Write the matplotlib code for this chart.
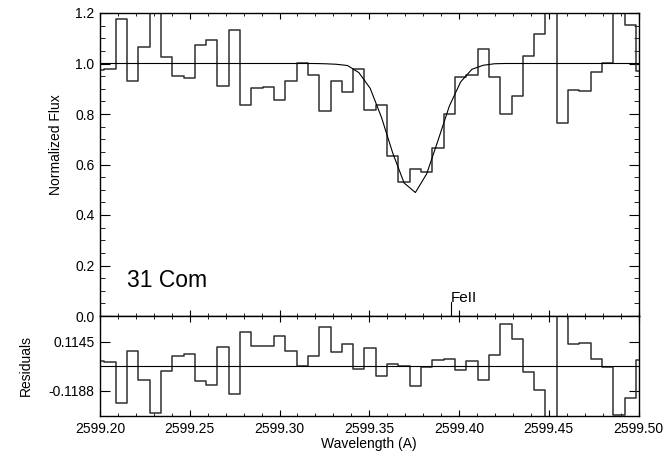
import numpy as np
import matplotlib
matplotlib.use("Agg")
import matplotlib.pyplot as plt
from matplotlib.ticker import MultipleLocator, FixedLocator, NullLocator

plt.rcParams['font.family'] = ['Liberation Sans', 'DejaVu Sans']

# Wavelength grid of the spectrum (pixel centres, Angstrom)
wave_start = 2599.1993
wave_step = 0.0063
n_pix = 49
wavelength = wave_start + wave_step * np.arange(n_pix)

# Observed normalized flux per pixel
flux = [0.975, 0.980, 1.175, 0.929, 1.067, 1.225, 1.024, 0.951, 0.941, 1.072,
        1.092, 0.909, 1.132, 0.837, 0.904, 0.907, 0.857, 0.929, 1.001, 0.954,
        0.812, 0.929, 0.889, 0.980, 0.816, 0.836, 0.634, 0.529, 0.583, 0.569,
        0.667, 0.799, 0.946, 0.954, 1.059, 0.946, 0.800, 0.872, 1.028, 1.116,
        1.300, 0.763, 0.895, 0.891, 0.968, 1.003, 1.232, 1.154, 0.970]

# Fitted absorption-line model at the same pixels
model = [1.000, 1.000, 1.000, 1.000, 1.000, 1.000, 1.000, 1.000, 1.000, 1.000,
         1.000, 1.000, 1.000, 1.000, 1.000, 1.000, 1.000, 1.000, 1.000, 1.000,
         0.999, 0.997, 0.992, 0.964, 0.902, 0.787, 0.645, 0.527, 0.489, 0.563,
         0.695, 0.831, 0.927, 0.977, 0.993, 0.999, 1.000, 1.000, 1.000, 1.000,
         1.000, 1.000, 1.000, 1.000, 1.000, 1.000, 1.000, 1.000, 1.000]

flux = np.array(flux)
model = np.array(model)
residuals = model - flux

# Line identification
line_label = "FeII"
line_wave = 2599.3953
line_tick_height = 0.056

star_name = "31 Com"
xticks = [2599.20, 2599.25, 2599.30, 2599.35, 2599.40, 2599.45, 2599.50]
resid_ticks = [0.1145, -0.1188]

fig = plt.figure(figsize=(6.67, 4.57), dpi=100)
W, H = 667, 457
x0, x1 = 100, 638.5
ax = fig.add_axes([x0 / W, 1 - 316 / H, (x1 - x0) / W, (316 - 13) / H])
axr = fig.add_axes([x0 / W, 1 - 416 / H, (x1 - x0) / W, 100 / H], sharex=ax)

data_color = '#303030'

# Spectrum panel
ax.plot(wavelength, flux, drawstyle='steps-mid', color=data_color, lw=1.1)
ax.plot(wavelength, model, color='black', lw=0.8)
ax.plot([line_wave, line_wave], [0, line_tick_height], color='black', lw=0.8)
ax.text(line_wave, line_tick_height, line_label, ha='left', va='baseline',
        fontsize=11)
ax.text(2599.2149, 0.116, star_name, ha='left', va='baseline', fontsize=16.5)

ax.set_xlim(2599.20, 2599.50)
ax.set_ylim(0.0, 1.2)
ax.yaxis.set_major_locator(MultipleLocator(0.2))
ax.yaxis.set_minor_locator(MultipleLocator(0.05))
ax.xaxis.set_major_locator(FixedLocator(xticks))
ax.xaxis.set_minor_locator(MultipleLocator(0.01))
ax.set_yticks([0.0, 0.2, 0.4, 0.6, 0.8, 1.0, 1.2])
ax.set_yticklabels(['0.0', '0.2', '0.4', '0.6', '0.8', '1.0', '1.2'])
ax.tick_params(axis='both', which='both', direction='in', top=True, right=True,
               labelbottom=False, labelsize=10, pad=4)
ax.tick_params(axis='y', which='major', length=7)
ax.tick_params(axis='y', which='minor', length=3.6)
ax.tick_params(axis='x', which='major', length=4.5)
ax.tick_params(axis='x', which='minor', length=2.2)
ax.set_ylabel("Normalized Flux", fontsize=10)
ax.yaxis.set_label_coords(-0.068, 0.564)

# Residual panel
axr.plot(wavelength, residuals, drawstyle='steps-mid', color=data_color, lw=1.1)
axr.axhline(0.0, color='black', lw=0.8)
axr.set_ylim(-0.238, 0.238)
axr.yaxis.set_major_locator(FixedLocator(resid_ticks))
axr.yaxis.set_minor_locator(NullLocator())
axr.set_yticklabels([f"{v:.4f}" for v in resid_ticks])
axr.xaxis.set_major_locator(FixedLocator(xticks))
axr.xaxis.set_minor_locator(MultipleLocator(0.01))
axr.set_xticklabels([f"{v:.2f}" for v in xticks])
axr.tick_params(axis='both', which='both', direction='in', top=True, right=True,
                labelsize=10, pad=4)
axr.tick_params(axis='y', which='major', length=7)
axr.tick_params(axis='x', which='major', length=4.5)
axr.tick_params(axis='x', which='minor', length=2.2)
axr.set_xlabel("Wavelength (A)", fontsize=10, labelpad=1)
axr.set_ylabel("Residuals", fontsize=10)
axr.yaxis.set_label_coords(-0.124, 0.5)

for a in (ax, axr):
    for s in a.spines.values():
        s.set_linewidth(1.0)

fig.savefig("out.png", dpi=100)
